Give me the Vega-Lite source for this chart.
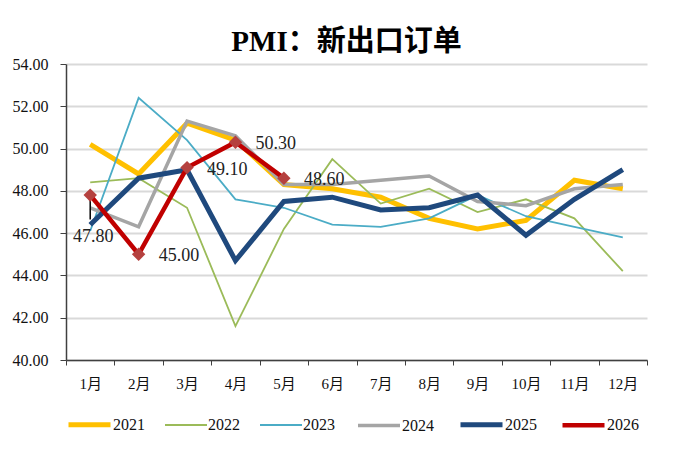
{
  "$schema": "https://vega.github.io/schema/vega-lite/v6.json",
  "width": 581,
  "height": 296,
  "autosize": {"type": "none"},
  "padding": {"left": 66, "top": 64, "right": 53, "bottom": 112},
  "background": "white",
  "title": {
    "text": "PMI：新出口订单",
    "font": "Liberation Serif, Noto Sans CJK SC",
    "fontSize": 29,
    "fontWeight": "bold",
    "color": "#000000",
    "anchor": "middle",
    "dx": -10,
    "offset": -1
  },
  "config": {
    "view": {"stroke": null},
    "font": "Liberation Serif",
    "legend": {
      "orient": "bottom",
      "direction": "horizontal",
      "symbolType": "stroke",
      "symbolSize": 1764,
      "labelFont": "Liberation Serif",
      "labelFontSize": 16,
      "labelColor": "#111111",
      "labelOffset": 0,
      "columnPadding": 16,
      "offset": 10,
      "title": null
    }
  },
  "data": {
    "values": [
      {"year": "2021", "month": "1月", "value": 50.2},
      {"year": "2021", "month": "2月", "value": 48.8},
      {"year": "2021", "month": "3月", "value": 51.2},
      {"year": "2021", "month": "4月", "value": 50.4},
      {"year": "2021", "month": "5月", "value": 48.3},
      {"year": "2021", "month": "6月", "value": 48.1},
      {"year": "2021", "month": "7月", "value": 47.7},
      {"year": "2021", "month": "8月", "value": 46.7},
      {"year": "2021", "month": "9月", "value": 46.2},
      {"year": "2021", "month": "10月", "value": 46.6},
      {"year": "2021", "month": "11月", "value": 48.5},
      {"year": "2021", "month": "12月", "value": 48.1},
      {"year": "2022", "month": "1月", "value": 48.4},
      {"year": "2022", "month": "2月", "value": 48.6},
      {"year": "2022", "month": "3月", "value": 47.2},
      {"year": "2022", "month": "4月", "value": 41.6},
      {"year": "2022", "month": "5月", "value": 46.2},
      {"year": "2022", "month": "6月", "value": 49.5},
      {"year": "2022", "month": "7月", "value": 47.4},
      {"year": "2022", "month": "8月", "value": 48.1},
      {"year": "2022", "month": "9月", "value": 47.0},
      {"year": "2022", "month": "10月", "value": 47.6},
      {"year": "2022", "month": "11月", "value": 46.7},
      {"year": "2022", "month": "12月", "value": 44.2},
      {"year": "2023", "month": "1月", "value": 46.1},
      {"year": "2023", "month": "2月", "value": 52.4},
      {"year": "2023", "month": "3月", "value": 50.4},
      {"year": "2023", "month": "4月", "value": 47.6},
      {"year": "2023", "month": "5月", "value": 47.2},
      {"year": "2023", "month": "6月", "value": 46.4},
      {"year": "2023", "month": "7月", "value": 46.3},
      {"year": "2023", "month": "8月", "value": 46.7},
      {"year": "2023", "month": "9月", "value": 47.8},
      {"year": "2023", "month": "10月", "value": 46.8},
      {"year": "2023", "month": "11月", "value": 46.3},
      {"year": "2023", "month": "12月", "value": 45.8},
      {"year": "2024", "month": "1月", "value": 47.2},
      {"year": "2024", "month": "2月", "value": 46.3},
      {"year": "2024", "month": "3月", "value": 51.3},
      {"year": "2024", "month": "4月", "value": 50.6},
      {"year": "2024", "month": "5月", "value": 48.3},
      {"year": "2024", "month": "6月", "value": 48.3},
      {"year": "2024", "month": "7月", "value": 48.5},
      {"year": "2024", "month": "8月", "value": 48.7},
      {"year": "2024", "month": "9月", "value": 47.5},
      {"year": "2024", "month": "10月", "value": 47.3},
      {"year": "2024", "month": "11月", "value": 48.1},
      {"year": "2024", "month": "12月", "value": 48.3},
      {"year": "2025", "month": "1月", "value": 46.4},
      {"year": "2025", "month": "2月", "value": 48.6},
      {"year": "2025", "month": "3月", "value": 49.0},
      {"year": "2025", "month": "4月", "value": 44.7},
      {"year": "2025", "month": "5月", "value": 47.5},
      {"year": "2025", "month": "6月", "value": 47.7},
      {"year": "2025", "month": "7月", "value": 47.1},
      {"year": "2025", "month": "8月", "value": 47.2},
      {"year": "2025", "month": "9月", "value": 47.8},
      {"year": "2025", "month": "10月", "value": 45.9},
      {"year": "2025", "month": "11月", "value": 47.6},
      {"year": "2025", "month": "12月", "value": 49.0},
      {"year": "2026", "month": "1月", "value": 47.8},
      {"year": "2026", "month": "2月", "value": 45.0},
      {"year": "2026", "month": "3月", "value": 49.1},
      {"year": "2026", "month": "4月", "value": 50.3},
      {"year": "2026", "month": "5月", "value": 48.6}
    ]
  },
  "encoding": {
    "x": {
      "field": "month",
      "type": "ordinal",
      "scale": {
        "type": "band",
        "domain": ["1月", "2月", "3月", "4月", "5月", "6月", "7月", "8月", "9月", "10月", "11月", "12月"],
        "paddingInner": 0,
        "paddingOuter": 0
      },
      "axis": {
        "title": null,
        "labelAngle": 0,
        "tickBand": "extent",
        "tickSize": 5,
        "tickColor": "#404040",
        "domainColor": "#404040",
        "domainWidth": 1.5,
        "labelPadding": 11,
        "labelFont": "Liberation Serif, Noto Sans CJK SC",
        "labelFontSize": 15,
        "labelColor": "#111111",
        "grid": false
      }
    },
    "y": {
      "field": "value",
      "type": "quantitative",
      "scale": {"domain": [40, 54], "nice": false, "zero": false},
      "axis": {
        "title": null,
        "values": [40, 42, 44, 46, 48, 50, 52, 54],
        "format": ".2f",
        "tickSize": 6,
        "tickColor": "#404040",
        "domainColor": "#404040",
        "domainWidth": 1.5,
        "labelPadding": 12,
        "labelFont": "Liberation Serif",
        "labelFontSize": 16,
        "labelColor": "#111111",
        "grid": true,
        "gridColor": "#d9d9d9",
        "gridWidth": 2
      }
    }
  },
  "layer": [
    {
      "mark": {"type": "line", "strokeJoin": "miter"},
      "encoding": {
        "color": {
          "field": "year",
          "type": "nominal",
          "scale": {
            "domain": ["2021", "2022", "2023", "2024", "2025", "2026"],
            "range": ["#FFC000", "#9BBB59", "#4BACC6", "#A5A5A5", "#1F497D", "#C00000"]
          }
        },
        "strokeWidth": {
          "field": "year",
          "type": "ordinal",
          "scale": {
            "type": "ordinal",
            "domain": ["2021", "2022", "2023", "2024", "2025", "2026"],
            "range": [5, 1.8, 1.8, 3.5, 5, 4.5]
          }
        }
      }
    },
    {
      "transform": [{"filter": "datum.year === '2026' && datum.month === '1月'"}],
      "mark": {"type": "rule", "color": "#000000", "strokeWidth": 1.5},
      "encoding": {
        "y2": {"datum": 46.65}
      }
    },
    {
      "transform": [{"filter": "datum.year === '2026'"}],
      "mark": {"type": "point", "shape": "diamond", "filled": true, "color": "#B5413F", "size": 180, "opacity": 1}
    },
    {
      "transform": [{"filter": "datum.year === '2026' && datum.month !== '1月'"}],
      "mark": {"type": "text", "align": "left", "baseline": "middle", "dx": 20, "dy": 2, "font": "Liberation Serif", "fontSize": 18, "color": "#222222"},
      "encoding": {"text": {"field": "value", "type": "quantitative", "format": ".2f"}}
    },
    {
      "transform": [{"filter": "datum.year === '2026' && datum.month === '1月'"}],
      "mark": {"type": "text", "align": "center", "baseline": "middle", "dx": 3, "dy": 42, "font": "Liberation Serif", "fontSize": 18, "color": "#222222"},
      "encoding": {"text": {"field": "value", "type": "quantitative", "format": ".2f"}}
    }
  ]
}
